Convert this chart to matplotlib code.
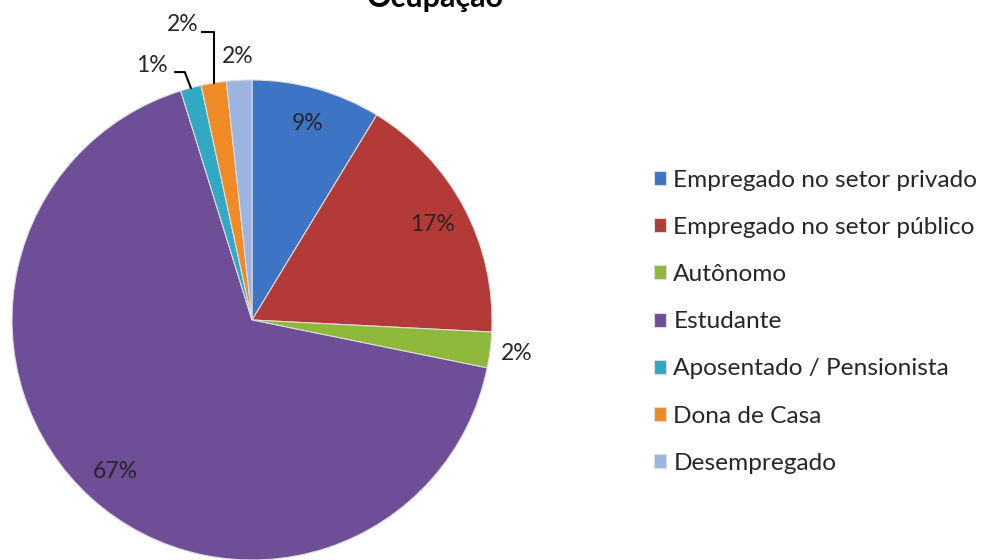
import numpy as np
import matplotlib
matplotlib.use("Agg")
import matplotlib.pyplot as plt

# Data (percent of respondents)
categories = ["Empregado no setor privado", "Empregado no setor público", "Autônomo",
              "Estudante", "Aposentado / Pensionista", "Dona de Casa", "Desempregado"]
values = [8.7, 17.1, 2.4, 67.0, 1.4, 1.7, 1.7]
pct_labels = ["9%", "17%", "2%", "67%", "1%", "2%", "2%"]
colors = ["#3d74c4", "#b33a36", "#8db83a", "#6e4e96", "#31a9c4", "#f08a24", "#9cb4e2"]

plt.rcParams['font.family'] = ['Lato', 'DejaVu Sans']

fig = plt.figure(figsize=(9.87, 5.6), dpi=100)
ax = fig.add_axes([12 / 987, 0.0, 480 / 987, 480 / 560])

wedges, _ = ax.pie(values, colors=colors, startangle=90, counterclock=False,
                   radius=1, wedgeprops=dict(edgecolor='#dcdcdc', linewidth=0.8))
ax.set_xlim(-1, 1)
ax.set_ylim(-1, 1)
ax.set_aspect('equal')
ax.axis('off')

txt_color = '#262626'
fs = 16.5

def mid_angle(w):
    return np.deg2rad((w.theta1 + w.theta2) / 2)

# inside labels
for i in [0, 1, 3]:
    a = mid_angle(wedges[i])
    ax.text(0.85 * np.cos(a), 0.85 * np.sin(a), pct_labels[i], ha='center', va='center',
            fontsize=fs, color=txt_color)

# Autônomo label just outside
a = mid_angle(wedges[2])
ax.text(1.11 * np.cos(a), 1.11 * np.sin(a), pct_labels[2], ha='center', va='center',
        fontsize=fs, color=txt_color, clip_on=False)

# Desempregado label above
a = mid_angle(wedges[6])
ax.text(1.1 * np.cos(a), 1.1 * np.sin(a), pct_labels[6], ha='center', va='center',
        fontsize=fs, color=txt_color, clip_on=False)

# Aposentado label with leader
a = mid_angle(wedges[4])
ex, ey = np.cos(a), np.sin(a)
ax.text(-0.417, 1.06, pct_labels[4], ha='center', va='center', fontsize=fs,
        color=txt_color, clip_on=False)
ax.plot([-0.32, -0.28, ex], [1.033, 1.033, ey], color='black', lw=1.5, clip_on=False)

# Dona de Casa label with leader
a = mid_angle(wedges[5])
ex, ey = np.cos(a), np.sin(a)
ax.text(-0.29, 1.23, pct_labels[5], ha='center', va='center', fontsize=fs,
        color=txt_color, clip_on=False)
ax.plot([-0.208, ex, ex], [1.2, 1.2, ey], color='black', lw=1.5, clip_on=False)

fig.text(435 / 987, 1 - 7 / 560, "Ocupação", ha='center', va='baseline',
         fontsize=22, fontweight='bold', color='black')

leg = fig.legend(wedges, categories, loc='upper left', bbox_to_anchor=(644 / 987, 1 - 160 / 560),
                 frameon=False, fontsize=17.6, handlelength=0.5, handleheight=0.5,
                 handletextpad=0.3, labelspacing=1.07, borderaxespad=0)
for t in leg.get_texts():
    t.set_color(txt_color)

fig.savefig("out.png", dpi=100)
